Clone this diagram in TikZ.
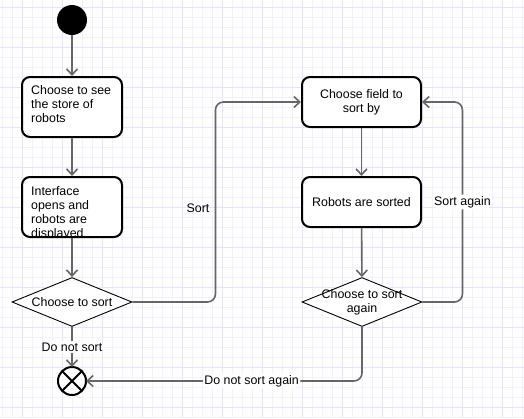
\documentclass[tikz,border=0pt]{standalone}
\usepackage{fontspec}
\setmainfont{Liberation Sans}
\usetikzlibrary{arrows.meta,shapes.geometric}

\definecolor{GridMinor}{RGB}{240,240,255}
\definecolor{GridMajor}{RGB}{228,228,253}
\definecolor{WireGray}{RGB}{102,102,102}

\begin{document}
\begin{tikzpicture}[
        % Environment Config
        x=1pt, y=-1pt,
        font=\fontsize{12.4pt}{14pt}\selectfont,
        Action/.style={% Style for the rounded action boxes
          draw,
          rounded corners=8pt,
          line width=2pt,
          fill=white,
          inner sep=0pt,
          align=center
        },
        BoxText/.style={% Style for the top-left text inside a box
          anchor=north west,
          inner sep=0pt,
          align=left
        },
        Decision/.style={% Style for the decision diamonds
          draw,
          diamond,
          aspect=2.45,
          line width=0.9pt,
          fill=white,
          inner sep=-10pt,
          minimum width=120pt,
          minimum height=49pt,
          align=center
        },
        Wire/.style={% Style for the control flow
          -{Straight Barb[length=6pt,width=11pt]},
          WireGray,
          line width=1.6pt,
          rounded corners=8pt
        },
        Guard/.style={% Style for the guard labels
          fill=white,
          inner sep=1.5pt,
          text=black
        }
      ]

      % Background grid
      \useasboundingbox (0,0) rectangle (524,418);
      \fill[white] (0,0) rectangle (524,418);
      \foreach \x in {2,12,...,522}
        \draw[GridMinor, line width=1pt] (\x,0) -- (\x,418);
      \foreach \y in {7,17,...,417}
        \draw[GridMinor, line width=1pt] (0,\y) -- (524,\y);
      \foreach \x in {22,62,...,502}
        \draw[GridMajor, line width=1pt] (\x,0) -- (\x,418);
      \foreach \y in {7,47,...,407}
        \draw[GridMajor, line width=1pt] (0,\y) -- (524,\y);

      %===Initial and final states===
      \node[circle, fill=black, minimum size=30pt, inner sep=0pt] (start) at (72,20) {};
      \node[circle, draw, line width=2pt, fill=white, minimum size=28pt,
            inner sep=0pt, outer sep=0pt] (finish) at (72,381) {};
      \draw[line width=1.8pt]
      (finish.north west) -- (finish.south east)
      (finish.north east) -- (finish.south west);

      %===Left column===
      \node[Action, minimum width=100pt, minimum height=60pt] (see) at (72,107) {};
      \node[BoxText] (seetext) at ([xshift=10pt,yshift=-9.5pt]see.north west)
        {Choose to see\\the store of\\robots};
      \node[Action, minimum width=100pt, minimum height=60pt] (display) at (72,207) {};
      \begin{scope}
        \clip[rounded corners=7pt] ([xshift=2pt,yshift=-2pt]display.north west)
          rectangle ([xshift=-2pt,yshift=2pt]display.south east);
        \node[BoxText] (displaytext) at ([xshift=10pt,yshift=-10pt]display.north west)
          {Interface\\opens and\\robots are\\displayed};
      \end{scope}
      \node[Decision] (sortq) at (72,302) {Choose to sort};

      %===Right column===
      \node[Action, minimum width=119pt, minimum height=50pt] (field) at (361.5,102)
        {Choose field to\\sort by};
      \node[Action, minimum width=119pt, minimum height=50pt] (sorted) at (361.5,202)
        {Robots are sorted};
      \node[Decision] (againq) at (362,302) {Choose to sort\\again};

      % Draw the flow
      \draw[Wire] (start) -- (see);
      \draw[Wire] (see) -- (display);
      \draw[Wire] (display) -- (sortq);
      \draw[Wire]
      (sortq)
          -- node[Guard]{Do not sort} (finish);
      \draw[Wire]
      (sortq.east)
          -- ++(83,0)
          |- (field.west);
      \node (sortlbl) at (198,208) {Sort};
      \draw[Wire] (field) -- (sorted);
      \draw[Wire] (sorted) -- (againq);
      \draw[Wire]
      (againq.east)
          -- ++(40,0)
          |- node[Guard, pos=0.25]{Sort again} (field.east);
      \draw[Wire]
      (againq.south)
          |- node[Guard, pos=0.7]{Do not sort again} (finish.east);

      \end{tikzpicture}
\end{document}
